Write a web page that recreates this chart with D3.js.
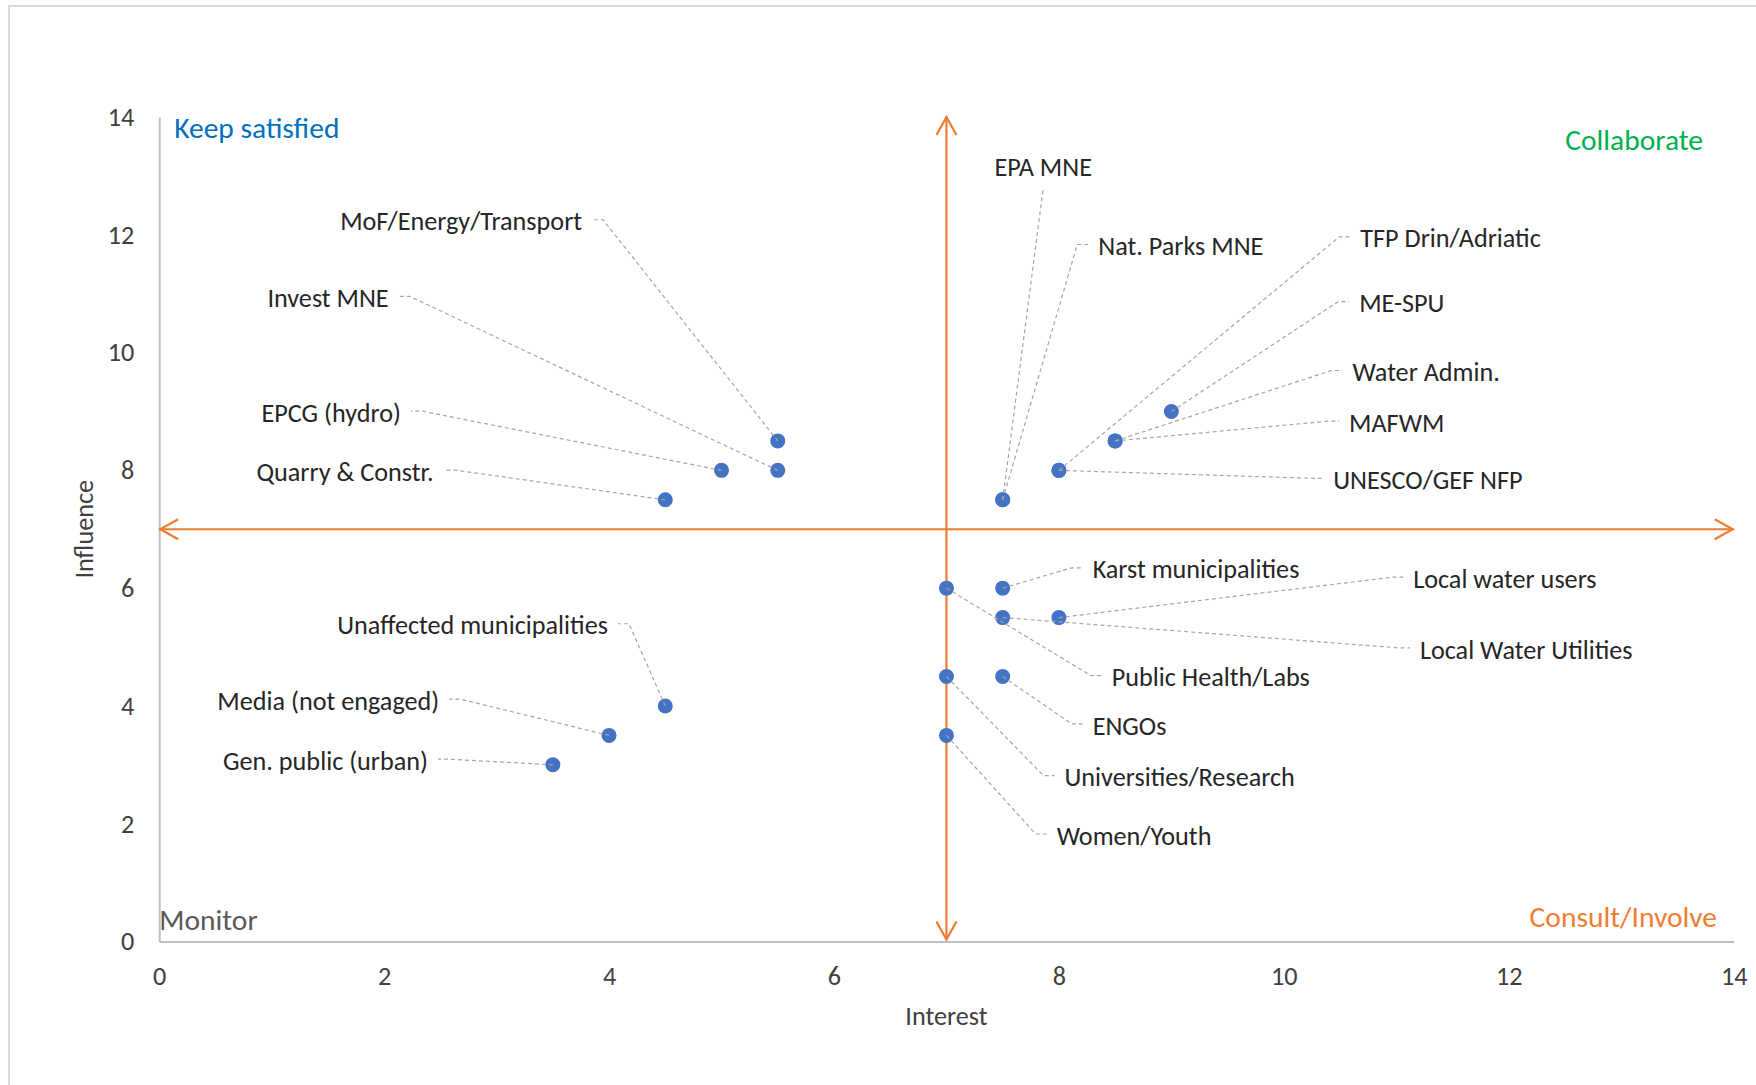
<!DOCTYPE html>
<html>
<head>
<meta charset="utf-8">
<script src="https://cdn.jsdelivr.net/npm/d3@7"></script>
<style>
  body { margin: 0; background: #fff; }
  text { font-family: Carlito, Calibri, Lato, sans-serif; }
</style>
</head>
<body>
<svg id="chart"></svg>
<script>
// stakeholder names, interest (x) and influence (y)
var stakeholders = ["MoF/Energy/Transport", "Invest MNE", "EPCG (hydro)", "Quarry & Constr.",
  "EPA MNE", "Nat. Parks MNE", "TFP Drin/Adriatic", "ME-SPU", "Water Admin.", "MAFWM", "UNESCO/GEF NFP",
  "Unaffected municipalities", "Media (not engaged)", "Gen. public (urban)",
  "Karst municipalities", "Local water users", "Local Water Utilities", "Public Health/Labs",
  "ENGOs", "Universities/Research", "Women/Youth"];
var interest  = [5.5, 5.5, 5, 4.5, 7.5, 7.5, 8, 9, 8.5, 8.5, 8, 4.5, 4, 3.5, 7.5, 8, 7.5, 7, 7.5, 7, 7];
var influence = [8.5, 8, 8, 7.5, 7.5, 7.5, 8, 9, 8.5, 8.5, 8, 4, 3.5, 3, 6, 5.5, 5.5, 6, 4.5, 4.5, 3.5];

// where each data label sits (in chart units) and on which side of its point
var labelX = [3.76, 2.04, 2.15, 2.44, 7.86, 8.35, 10.68, 10.67, 10.61, 10.58, 10.44, 3.99, 2.49, 2.39,
  8.30, 11.15, 11.21, 8.47, 8.30, 8.05, 7.98];
var labelY = [12.23, 10.93, 8.98, 7.98, 13.15, 11.81, 11.94, 10.84, 9.67, 8.81, 7.84, 5.37, 4.09, 3.07,
  6.32, 6.16, 4.96, 4.49, 3.67, 2.79, 1.80];
var labelSide = ["L", "L", "L", "L", "T", "R", "R", "R", "R", "R", "R", "L", "L", "L",
  "R", "R", "R", "R", "R", "R", "R"];

var xTicks = [0, 2, 4, 6, 8, 10, 12, 14];
var yTicks = [0, 2, 4, 6, 8, 10, 12, 14];
var midInterest = 7, midInfluence = 7;

var quadrants = [
  {text: "Keep satisfied", color: "#0070C0"},
  {text: "Collaborate", color: "#00B050"},
  {text: "Monitor", color: "#595959"},
  {text: "Consult/Involve", color: "#ED7D31"}
];

var W = 1756, H = 1085;
var svg = d3.select("#chart").attr("width", W).attr("height", H);

svg.append("rect")
  .attr("x", 9).attr("y", 6).attr("width", W + 20).attr("height", H + 20)
  .attr("fill", "#fff").attr("stroke", "#d9d9d9").attr("stroke-width", 2);

var x = d3.scaleLinear().domain([0, 14]).range([159.2, 1733.7]);
var y = d3.scaleLinear().domain([0, 14]).range([941.5, 117]);

var fs = 26.2;

// axes
var xAxis = svg.append("g")
  .attr("transform", "translate(0," + y(0) + ")")
  .call(d3.axisBottom(x).tickValues(xTicks).tickSize(0).tickSizeOuter(0).tickPadding(25));
var yAxis = svg.append("g")
  .attr("transform", "translate(" + x(0) + ",0)")
  .call(d3.axisLeft(y).tickValues(yTicks).tickSize(0).tickSizeOuter(0).tickPadding(25));

[xAxis, yAxis].forEach(function(a) {
  a.select(".domain").attr("stroke", "#bfbfbf").attr("stroke-width", 2);
  a.selectAll("text").attr("font-size", fs).attr("fill", "#404040")
    .style("font-family", "Carlito, Calibri, Lato, sans-serif");
});

svg.append("text")
  .attr("x", x(7)).attr("y", 1016).attr("dy", "0.35em")
  .attr("text-anchor", "middle").attr("font-size", fs).attr("fill", "#404040")
  .text("Interest");
svg.append("text")
  .attr("transform", "translate(84," + y(7) + ") rotate(-90)")
  .attr("dy", "0.35em")
  .attr("text-anchor", "middle").attr("font-size", fs).attr("fill", "#404040")
  .text("Influence");

// orange quadrant arrows
var orange = "#ED7D31";
function arrowHead(px, py, dx, dy) {
  // open chevron pointing along (dx, dy)
  var len = 18, half = 10;
  var bx = px - dx * len, by = py - dy * len;
  return "M" + (bx - dy * half) + "," + (by + dx * half) + "L" + px + "," + py +
    "L" + (bx + dy * half) + "," + (by - dx * half);
}
var arrows = svg.append("g").attr("fill", "none").attr("stroke", orange).attr("stroke-width", 2.2);
arrows.append("line").attr("x1", x(0)).attr("x2", x(14)).attr("y1", y(midInfluence)).attr("y2", y(midInfluence));
arrows.append("line").attr("x1", x(midInterest)).attr("x2", x(midInterest)).attr("y1", y(14)).attr("y2", y(0) - 2);
arrows.append("path").attr("d", arrowHead(x(0) + 1, y(midInfluence), -1, 0));
arrows.append("path").attr("d", arrowHead(x(14) - 1, y(midInfluence), 1, 0));
arrows.append("path").attr("d", arrowHead(x(midInterest), y(14), 0, -1));
arrows.append("path").attr("d", arrowHead(x(midInterest), y(0) - 2, 0, 1));

// quadrant labels
var qfs = 29.5;
svg.append("text").attr("x", x(0) + 15).attr("y", y(14) + 11).attr("dy", "0.35em")
  .attr("font-size", qfs).attr("fill", quadrants[0].color).text(quadrants[0].text);
svg.append("text").attr("x", 1703).attr("y", 140).attr("dy", "0.35em").attr("text-anchor", "end")
  .attr("font-size", qfs).attr("fill", quadrants[1].color).text(quadrants[1].text);
svg.append("text").attr("x", x(0)).attr("y", 920).attr("dy", "0.35em")
  .attr("font-size", qfs).attr("fill", quadrants[2].color).text(quadrants[2].text);
svg.append("text").attr("x", 1717).attr("y", 917).attr("dy", "0.35em").attr("text-anchor", "end")
  .attr("font-size", qfs).attr("fill", quadrants[3].color).text(quadrants[3].text);

var rows = stakeholders.map(function(name, i) {
  return {name: name, ix: interest[i], iy: influence[i], lx: labelX[i], ly: labelY[i], side: labelSide[i]};
});

// points
svg.append("g").selectAll("circle")
  .data(rows)
  .enter().append("circle")
  .attr("cx", function(d) { return x(d.ix); })
  .attr("cy", function(d) { return y(d.iy); })
  .attr("r", 7.5)
  .attr("fill", "#4472C4");

// leader lines (drawn over the points, like Excel does)
var gap = 10, seg = 11;
svg.append("g").selectAll("path")
  .data(rows)
  .enter().append("path")
  .attr("fill", "none")
  .attr("stroke", "#a6a6a6")
  .attr("stroke-width", 1.2)
  .attr("stroke-dasharray", "4,3")
  .attr("d", function(d) {
    var px = x(d.ix), py = y(d.iy), lx = x(d.lx), ly = y(d.ly) - 1.5;
    if (d.side == "T") {
      return "M" + px + "," + py + "L" + lx + "," + (ly + 23);
    }
    var s = d.side == "L" ? 1 : -1;
    var ex = lx + s * gap, kx = lx + s * (gap + seg);
    return "M" + px + "," + py + "L" + kx + "," + ly + "L" + ex + "," + ly;
  });

// labels
svg.append("g").selectAll("text")
  .data(rows)
  .enter().append("text")
  .attr("x", function(d) { return x(d.lx); })
  .attr("y", function(d) { return y(d.ly); })
  .attr("dy", "0.35em")
  .attr("text-anchor", function(d) { return d.side == "L" ? "end" : (d.side == "R" ? "start" : "middle"); })
  .attr("font-size", fs)
  .attr("fill", "#262626")
  .text(function(d) { return d.name; });
</script>
</body>
</html>
